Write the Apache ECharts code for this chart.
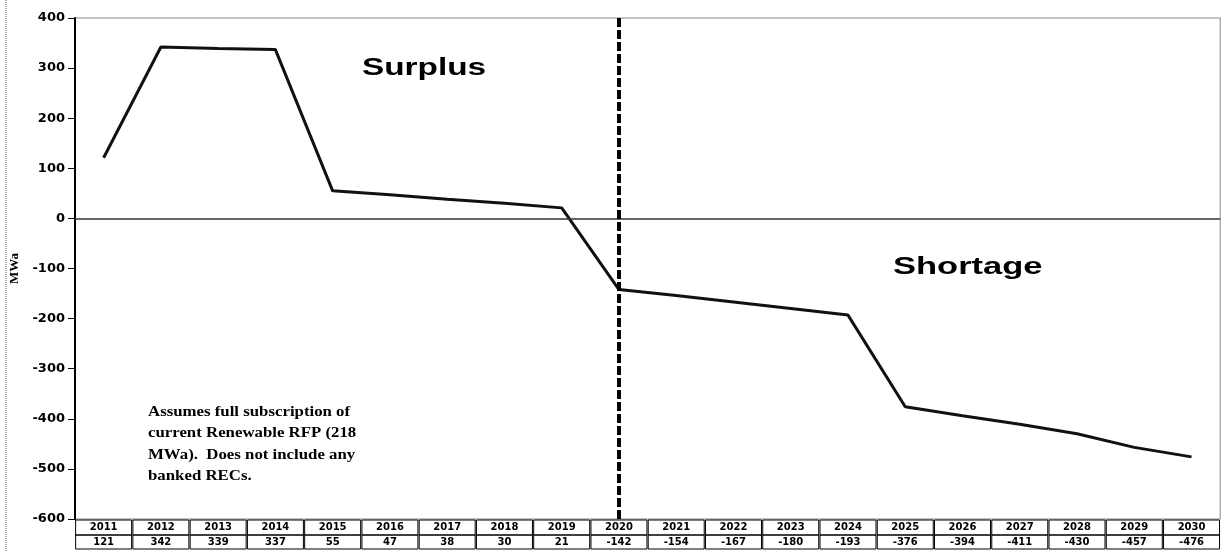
<!DOCTYPE html>
<html>
<head>
<meta charset="utf-8">
<script src="https://cdn.jsdelivr.net/npm/echarts@6/dist/echarts.min.js"></script>
<style>
    html, body { margin: 0; padding: 0; background: #fff; }
    #chart { width: 1223px; height: 552px; }
</style>
</head>
<body>
<div id="chart"></div>
<script>
// 年份与盈缺数据 (MWa)
const years = ['2011', '2012', '2013', '2014', '2015', '2016', '2017', '2018', '2019', '2020',
    '2021', '2022', '2023', '2024', '2025', '2026', '2027', '2028', '2029', '2030']
const balance = [121, 342, 339, 337, 55, 47, 38, 30, 21, -142,
    -154, -167, -180, -193, -376, -394, -411, -430, -457, -476]
const yTicks = { min: -600, max: 400, step: 100 }
const dividerYear = '2020'

const chart = echarts.init(document.getElementById('chart'))

// 表格单元格样式
const cell = (h) => ({
    width: 56,
    height: h,
    align: 'center',
    fontSize: 10,
    fontWeight: 'bold',
    fontFamily: 'DejaVu Sans',
    color: '#000',
    borderColor: '#000',
    borderWidth: 1,
})

const option = {
    animation: false,
    backgroundColor: '#fff',
    grid: {
        left: 75,
        right: 1,
        top: 18,
        bottom: 33,
        show: true,
        borderColor: '#888',
        borderWidth: 1,
    },
    xAxis: {
        type: 'category',
        data: years,
        boundaryGap: true,
        axisLine: { show: false },
        axisTick: { show: false },
        axisLabel: {
            margin: 1,
            interval: 0,
            formatter: (val, idx) => `{y|${val}}\n{v|${balance[idx]}}`,
            rich: { y: cell(15), v: cell(14) },
        },
        splitLine: { show: false },
    },
    yAxis: {
        type: 'value',
        min: yTicks.min,
        max: yTicks.max,
        interval: yTicks.step,
        name: 'MWa',
        nameLocation: 'middle',
        nameGap: 48,
        nameRotate: 90,
        nameTextStyle: {
            fontSize: 13,
            fontWeight: 'bold',
            fontFamily: 'Liberation Serif, Times New Roman',
            color: '#000',
        },
        axisLine: { show: true, lineStyle: { color: '#000', width: 2 } },
        axisTick: { show: true, length: 7, lineStyle: { color: '#000', width: 1 } },
        axisLabel: {
            margin: 10,
            fontSize: 13,
            fontWeight: 'bold',
            fontFamily: 'DejaVu Sans',
            color: '#000',
        },
        splitLine: { show: false },
    },
    series: [
        {
            type: 'line',
            data: balance,
            symbol: 'none',
            lineStyle: { color: '#111', width: 3 },
            markLine: {
                silent: true,
                symbol: 'none',
                label: { show: false },
                data: [
                    { yAxis: 0, lineStyle: { color: '#333', width: 1.5, type: 'solid' } },
                    { xAxis: dividerYear, lineStyle: { color: '#000', width: 4, type: [9, 3] } },
                ],
            },
        },
    ],
    graphic: [
        {
            type: 'line',
            shape: { x1: 6, y1: 0, x2: 6, y2: 552 },
            style: { stroke: '#555', lineWidth: 1, lineDash: [1, 1] },
        },
        {
            type: 'text',
            x: 362,
            y: 57,
            scaleX: 1.45,
            style: {
                text: 'Surplus',
                fontSize: 23,
                fontWeight: 'bold',
                fontFamily: 'Liberation Sans, Arial',
                fill: '#000',
            },
        },
        {
            type: 'text',
            x: 893,
            y: 256,
            scaleX: 1.5,
            style: {
                text: 'Shortage',
                fontSize: 23,
                fontWeight: 'bold',
                fontFamily: 'Liberation Sans, Arial',
                fill: '#000',
            },
        },
        {
            type: 'text',
            x: 148,
            y: 401,
            scaleX: 1.12,
            style: {
                text: 'Assumes full subscription of\ncurrent Renewable RFP (218\nMWa).  Does not include any\nbanked RECs.',
                fontSize: 15,
                lineHeight: 21.5,
                fontWeight: 'bold',
                fontFamily: 'Liberation Serif, Times New Roman',
                fill: '#000',
            },
        },
    ],
}

chart.setOption(option)
</script>
</body>
</html>
